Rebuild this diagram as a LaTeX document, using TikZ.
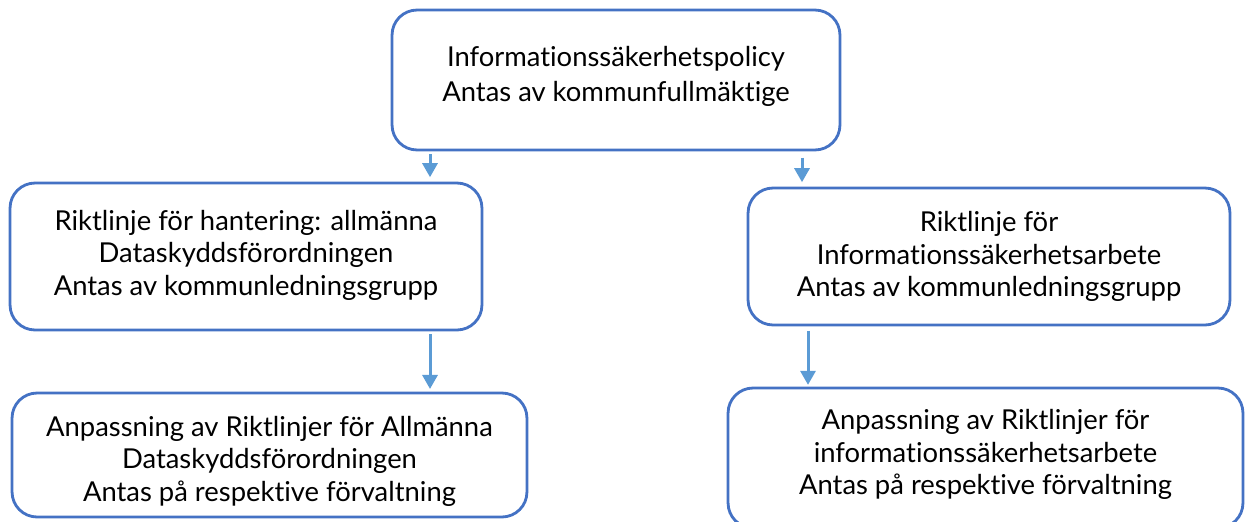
\documentclass[tikz,border=0pt]{standalone}
\usepackage{fontspec}
\setmainfont{Lato}[Ligatures=NoCommon]
\usetikzlibrary{positioning,arrows.meta}
\definecolor{boxblue}{HTML}{4472C4}
\definecolor{flowblue}{HTML}{5B9BD5}
\tikzset{
  docbox/.style={draw=boxblue, line width=1.6pt, rounded corners=0.5cm, align=center,
    inner sep=0pt, font=\fontsize{15.6}{18.5}\selectfont},
  flow/.style={draw=flowblue, line width=1.7pt, -{Triangle[length=0.28cm,width=0.3cm]}},
}

\begin{document}
\begin{tikzpicture}[x=0.02cm,y=-0.02cm]
	\useasboundingbox (0,0) rectangle (1246,521);
	\clip (0,0) rectangle (1246,521);
	% the policy and its two guidelines
	\node[docbox, minimum width=8.96cm, minimum height=2.8cm] (policy) at (616,80)
	  {Informationssäkerhetspolicy\\[0.05cm]Antas av kommunfullmäktige\\[-0.42cm]\mbox{}};
	\node[docbox, minimum width=9.44cm, minimum height=2.94cm] (hantering) at (246,256.5)
	  {Riktlinje för hantering: allmänna\\Dataskyddsförordningen\\Antas av kommunledningsgrupp\\[-0.5cm]\mbox{}};
	\node[docbox, minimum width=9.64cm, minimum height=2.74cm] (arbete) at (989,256.5)
	  {Riktlinje för\\Informationssäkerhetsarbete\\Antas av kommunledningsgrupp};
	% local adaptations
	\node[docbox, minimum width=10.3cm, minimum height=2.48cm] (anpassaDS) at (269.5,455)
	  {\rule{0pt}{0.64cm}Anpassning av Riktlinjer för Allmänna\\Dataskyddsförordningen\\Antas på respektive förvaltning};
	\node[docbox, minimum width=10.3cm, minimum height=2.8cm] (anpassaIS) at (985.5,458)
	  {Anpassning av Riktlinjer för\\informationssäkerhetsarbete\\Antas på respektive förvaltning\\[-0.41cm]\mbox{}};
	% arrows
	\draw[flow, shorten <=1.5pt, shorten >=2.5pt] (policy.south -| 430,0) -- (hantering.north -| 430,0);
	\draw[flow, shorten <=3.5pt, shorten >=2.5pt] (policy.south -| 802,0) -- (arbete.north -| 802,0);
	\draw[flow, shorten <=1.5pt, shorten >=1.5pt] (hantering.south -| 430,0) -- (anpassaDS.north -| 430,0);
	\draw[flow, shorten <=2.5pt, shorten >=1pt] (arbete.south -| 808,0) -- (anpassaIS.north -| 808,0);
\end{tikzpicture}
\end{document}
